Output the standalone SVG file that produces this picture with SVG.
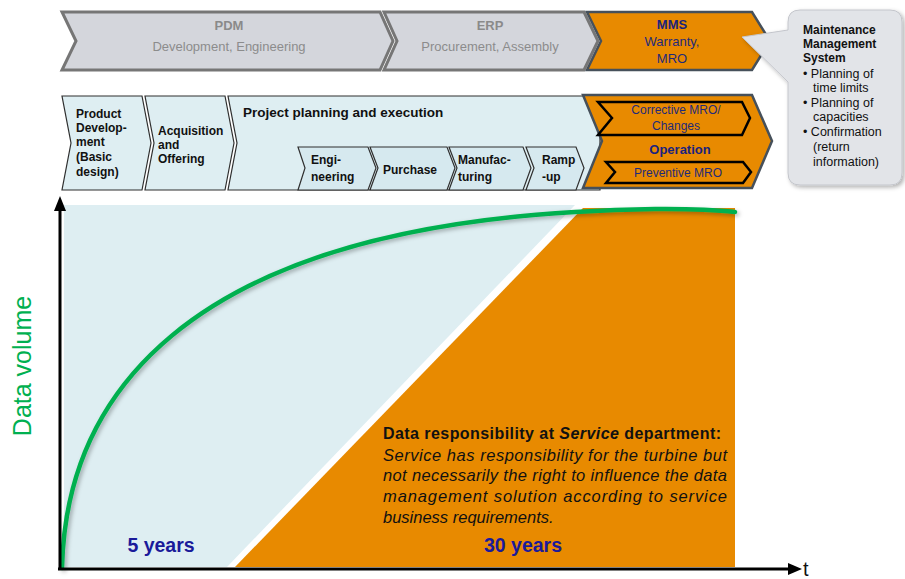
<svg xmlns="http://www.w3.org/2000/svg" width="905" height="579" viewBox="0 0 905 579">
<defs>
<style>
text{font-family:"Liberation Sans",Arial,sans-serif}
.gray{fill:#d4d6dc;stroke:#767676;stroke-width:3}
.org{fill:#e88a00;stroke:#46505a;stroke-width:2.5}
.lb{fill:#deeef2;stroke:#2f2f2f;stroke-width:1.2}
.lb2{fill:#d6e9ef;stroke:#2f2f2f;stroke-width:1.2}
.inner{fill:#e88a00;stroke:#000;stroke-width:2.5}
.b12{font-size:12px;font-weight:bold;fill:#111}
.n12{font-size:12px;fill:#1f2a7a}
.gt{font-size:13px;fill:#8c8c8c}
.c{font-size:12.5px;fill:#111}
.yr{font-size:19.5px;font-weight:bold;fill:#1a1a9a}
.it{font-size:16.5px;font-style:italic;fill:#111}
</style>
<filter id="sh" x="-10%" y="-10%" width="130%" height="130%">
<feDropShadow dx="2" dy="2" stdDeviation="2" flood-color="#000" flood-opacity="0.3"/>
</filter>
</defs>

<!-- top row -->
<g id="pdm">
<path class="gray" d="M62,12 L380,12 L393,41 L380,70 L62,70 L76,41 Z"/>
<text x="229" y="30" text-anchor="middle" font-size="13" font-weight="bold" fill="#8a8a8a">PDM</text>
<text class="gt" x="229" y="51" text-anchor="middle">Development, Engineering</text>
</g>
<g id="erp">
<path class="gray" d="M384,12 L584,12 L598,41 L584,70 L384,70 L397,41 Z"/>
<text x="490" y="30" text-anchor="middle" font-size="13" font-weight="bold" fill="#8a8a8a">ERP</text>
<text class="gt" x="490" y="51" text-anchor="middle">Procurement, Assembly</text>
</g>
<g id="mms">
<path class="org" d="M587,12 L752,12 L770,41 L752,70 L587,70 L601,41 Z"/>
<text x="672" y="29" text-anchor="middle" font-size="13" font-weight="bold" fill="#1a237e">MMS</text>
<text x="672" y="46" text-anchor="middle" font-size="13" fill="#1f2a7a">Warranty,</text>
<text x="672" y="63" text-anchor="middle" font-size="13" fill="#1f2a7a">MRO</text>
</g>
<g id="callout">
<path d="M800,10 H890 Q902,10 902,22 V173 Q902,185 890,185 H800 Q788,185 788,173 V82 L742,37 L788,30 V22 Q788,10 800,10 Z" fill="#e2e4e8" stroke="#c4c6cc" stroke-width="1" filter="url(#sh)"/>
<text class="b12" x="803" y="34">Maintenance</text>
<text class="b12" x="803" y="48">Management</text>
<text class="b12" x="803" y="62">System</text>
<text class="c" x="803" y="78">• Planning of</text>
<text class="c" x="813" y="92">time limits</text>
<text class="c" x="803" y="107">• Planning of</text>
<text class="c" x="813" y="121">capacities</text>
<text class="c" x="803" y="136">• Confirmation</text>
<text class="c" x="813" y="151">(return</text>
<text class="c" x="813" y="166">information)</text>
</g>

<!-- second row -->
<g id="product-dev">
<path class="lb" d="M62,96 L142,96 L151,143 L142,190 L62,190 L71,143 Z"/>
<text class="b12" x="76" y="118">Product</text>
<text class="b12" x="76" y="132">Develop-</text>
<text class="b12" x="76" y="146">ment</text>
<text class="b12" x="76" y="161">(Basic</text>
<text class="b12" x="76" y="176">design)</text>
</g>
<g id="acquisition">
<path class="lb" d="M145,96 L225,96 L234,143 L225,190 L145,190 L154,143 Z"/>
<text class="b12" x="158" y="135">Acquisition</text>
<text class="b12" x="158" y="149">and</text>
<text class="b12" x="158" y="163">Offering</text>
</g>
<g id="project">
<path class="lb" d="M228,96 L600,96 L600,190 L228,190 L237,143 Z"/>
<text x="243" y="117" font-size="13.5" font-weight="bold" fill="#111">Project planning and execution</text>
</g>
<g id="engineering">
<path class="lb2" d="M298,147 L368,147 L376,168 L368,190 L298,190 L305,168 Z"/>
<text class="b12" x="311" y="164">Engi-</text>
<text class="b12" x="311" y="181">neering</text>
</g>
<g id="purchase">
<path class="lb2" d="M370,147 L447,147 L455,168 L447,190 L370,190 L378,168 Z"/>
<text class="b12" x="383" y="174">Purchase</text>
</g>
<g id="manufacturing">
<path class="lb2" d="M449,147 L523,147 L531,168 L523,190 L449,190 L457,168 Z"/>
<text class="b12" x="458" y="164">Manufac-</text>
<text class="b12" x="458" y="181">turing</text>
</g>
<g id="rampup">
<path class="lb2" d="M526,147 L576,147 L584,168 L576,190 L526,190 L534,168 Z"/>
<text class="b12" x="542" y="164">Ramp</text>
<text class="b12" x="542" y="181">-up</text>
</g>
<g id="operation">
<path class="org" d="M583,95 L752,95 L772,141 L752,188 L583,188 L602,141 Z"/>
<path class="inner" d="M598,102 L742,102 L750,118 L742,135 L598,135 L612,118 Z"/>
<text class="n12" x="676" y="114" text-anchor="middle">Corrective MRO/</text>
<text class="n12" x="676" y="130" text-anchor="middle">Changes</text>
<text x="680" y="154" text-anchor="middle" font-size="13" font-weight="bold" fill="#1a237e">Operation</text>
<path class="inner" d="M606,162 L743,162 L751,172 L743,183 L606,183 L615,172 Z"/>
<text class="n12" x="678" y="177" text-anchor="middle">Preventive MRO</text>
</g>

<!-- chart -->
<g id="areas">
<polygon points="64,205 575,205 227,567 64,567" fill="#deeef2"/>
<polygon points="583,208 735,208 735,567 235,567" fill="#e88a00"/>
</g>
<g id="curve">
<path d="M62,568 C66,400 180,235 575,212 C620,209 690,207 735,212" fill="none" stroke="#00b050" stroke-width="4.5" stroke-linecap="round" filter="url(#sh)"/>
</g>
<g id="axes">
<line x1="60" y1="570" x2="60" y2="208" stroke="#000" stroke-width="3"/>
<polygon points="60,196 54,211 66,211" fill="#000"/>
<line x1="58" y1="569" x2="790" y2="569" stroke="#000" stroke-width="3"/>
<polygon points="802,569 788,563 788,575" fill="#000"/>
</g>
<text x="803" y="576" font-size="20" fill="#111">t</text>
<text transform="translate(31,366) rotate(-90)" text-anchor="middle" font-size="25" fill="#00b050">Data volume</text>
<text class="yr" x="161" y="552" text-anchor="middle">5 years</text>
<text class="yr" x="523" y="552" text-anchor="middle">30 years</text>

<g id="responsibility">
<text x="383" y="439" font-size="16" font-weight="bold" fill="#111" textLength="338" lengthAdjust="spacing">Data responsibility at <tspan font-style="italic">Service</tspan> department:</text>
<text class="it" x="383" y="461" textLength="344" lengthAdjust="spacing">Service has responsibility for the turbine but</text>
<text class="it" x="383" y="481" textLength="344" lengthAdjust="spacing">not necessarily the right to influence the data</text>
<text class="it" x="383" y="502" textLength="344" lengthAdjust="spacing">management solution according to service</text>
<text class="it" x="383" y="523">business requirements.</text>
</g>
</svg>
